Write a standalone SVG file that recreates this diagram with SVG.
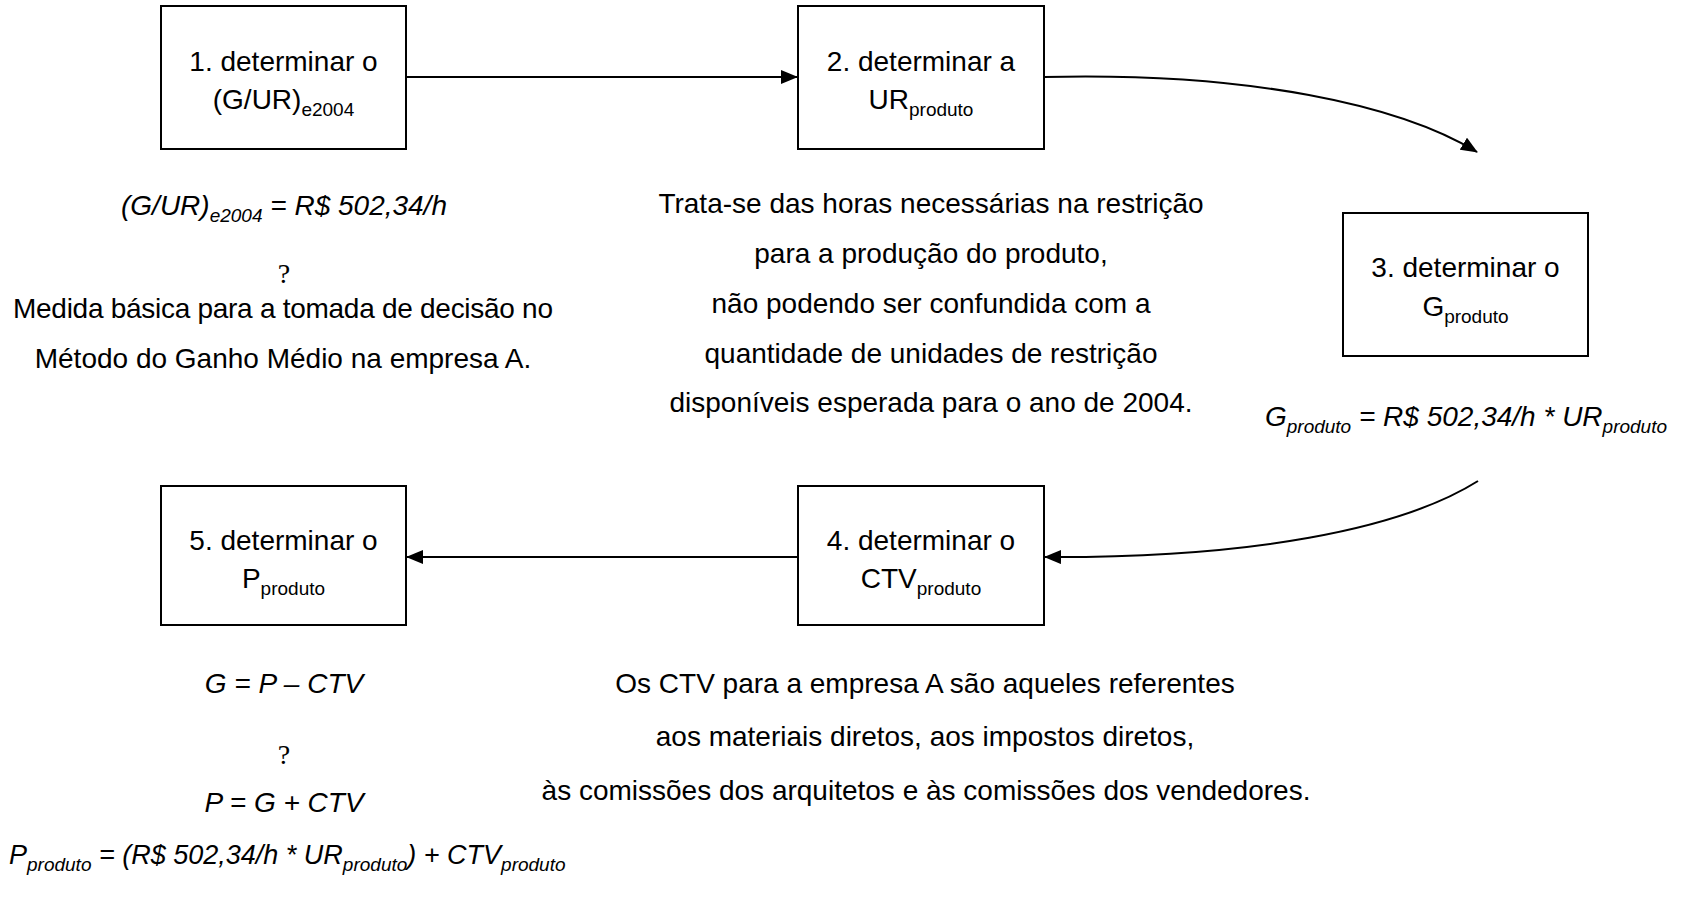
<svg xmlns="http://www.w3.org/2000/svg" width="1682" height="899" viewBox="0 0 1682 899">
<style>
.box{fill:#fff;stroke:#000;stroke-width:2}
.t{font-family:"Liberation Sans",Arial,sans-serif;font-size:28px;fill:#000}
.c{text-anchor:middle}
.i{font-style:italic}
.q{font-family:"Liberation Serif","Times New Roman",serif;font-size:28px;fill:#000;text-anchor:middle}
.s{font-size:19px}
.ln{fill:none;stroke:#000;stroke-width:2}
</style>
<defs>
<marker id="ah" markerUnits="userSpaceOnUse" markerWidth="18" markerHeight="14" refX="16" refY="7" orient="auto">
<path d="M0,0 L17,7 L0,14 Z" fill="#000"/>
</marker>
</defs>
<rect width="1682" height="899" fill="#fff"/>
<g id="connectors">
<line class="ln" x1="406" y1="77" x2="797" y2="77" marker-end="url(#ah)"/>
<path class="ln" d="M1044,77 C1250,72 1400,105 1477,152" marker-end="url(#ah)"/>
<path class="ln" d="M1478,481 C1400,530 1250,558 1045,557" marker-end="url(#ah)"/>
<line class="ln" x1="798" y1="557" x2="407" y2="557" marker-end="url(#ah)"/>
</g>
<g id="node1">
<rect class="box" x="161" y="6" width="245" height="143"/>
<text class="t c" x="283.5" y="71">1. determinar o</text>
<text class="t c" x="283.5" y="109">(G/UR)<tspan class="s" dy="7">e2004</tspan></text>
</g>
<g id="node2">
<rect class="box" x="798" y="6" width="246" height="143"/>
<text class="t c" x="921" y="71">2. determinar a</text>
<text class="t c" x="921" y="109">UR<tspan class="s" dy="7">produto</tspan></text>
</g>
<g id="node3">
<rect class="box" x="1343" y="213" width="245" height="143"/>
<text class="t c" x="1465.5" y="277">3. determinar o</text>
<text class="t c" x="1465.5" y="316">G<tspan class="s" dy="7">produto</tspan></text>
</g>
<g id="node4">
<rect class="box" x="798" y="486" width="246" height="139"/>
<text class="t c" x="921" y="550">4. determinar o</text>
<text class="t c" x="921" y="588">CTV<tspan class="s" dy="7">produto</tspan></text>
</g>
<g id="node5">
<rect class="box" x="161" y="486" width="245" height="139"/>
<text class="t c" x="283.5" y="550">5. determinar o</text>
<text class="t c" x="283.5" y="588">P<tspan class="s" dy="7">produto</tspan></text>
</g>
<g id="notes1">
<text class="t c i" x="284" y="215">(G/UR)<tspan class="s" dy="7">e2004</tspan><tspan dy="-7"> = R$ 502,34/h</tspan></text>
<text class="q" x="284" y="283">?</text>
<text class="t c" x="283" y="318" textLength="540">Medida básica para a tomada de decisão no</text>
<text class="t c" x="283" y="368">Método do Ganho Médio na empresa A.</text>
</g>
<g id="notes2">
<text class="t c" x="931" y="213">Trata-se das horas necessárias na restrição</text>
<text class="t c" x="931" y="263">para a produção do produto,</text>
<text class="t c" x="931" y="313">não podendo ser confundida com a</text>
<text class="t c" x="931" y="363">quantidade de unidades de restrição</text>
<text class="t c" x="931" y="412">disponíveis esperada para o ano de 2004.</text>
</g>
<g id="notes3">
<text class="t c i" x="1466" y="426">G<tspan class="s" dy="7">produto</tspan><tspan dy="-7"> = R$ 502,34/h * UR</tspan><tspan class="s" dy="7">produto</tspan></text>
</g>
<g id="notes4">
<text class="t c" x="925" y="693">Os CTV para a empresa A são aqueles referentes</text>
<text class="t c" x="925" y="746">aos materiais diretos, aos impostos diretos,</text>
<text class="t c" x="926" y="800">às comissões dos arquitetos e às comissões dos vendedores.</text>
</g>
<g id="notes5">
<text class="t c i" x="284" y="693">G = P – CTV</text>
<text class="q" x="284" y="764">?</text>
<text class="t c i" x="284" y="812">P = G + CTV</text>
<text class="t i" x="9" y="864" style="font-size:27px">P<tspan class="s" dy="7">produto</tspan><tspan dy="-7"> = (R$ 502,34/h * UR</tspan><tspan class="s" dy="7">produto</tspan><tspan dy="-7">) + CTV</tspan><tspan class="s" dy="7">produto</tspan></text>
</g>
</svg>
